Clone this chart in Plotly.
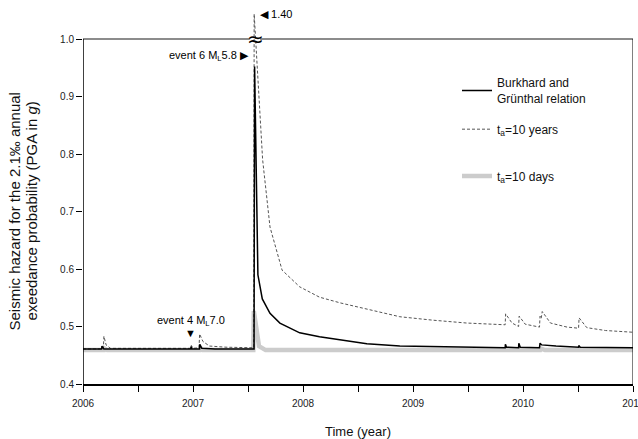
import plotly.graph_objects as go

# ---------------- data ----------------
bg_t = [2006.00, 2006.17, 2006.172, 2006.19, 2006.98, 2006.982, 2006.99, 2007.06, 2007.062, 2007.08,
        2007.20, 2007.555, 2007.560, 2007.590, 2007.630, 2007.700, 2007.790, 2007.970, 2008.150, 2008.340,
        2008.580, 2008.880, 2009.200, 2009.500, 2009.838, 2009.840, 2009.850, 2009.960, 2009.962, 2009.975,
        2010.150, 2010.155, 2010.17, 2010.30, 2010.505, 2010.507, 2010.52, 2011.00]
bg_v = [0.461, 0.461, 0.466, 0.461, 0.461, 0.465, 0.461, 0.461, 0.469, 0.462,
        0.461, 0.461, 0.952, 0.590, 0.548, 0.523, 0.506, 0.489, 0.482, 0.477,
        0.470, 0.466, 0.465, 0.464, 0.463, 0.469, 0.464, 0.463, 0.471, 0.464,
        0.463, 0.471, 0.468, 0.466, 0.464, 0.467, 0.464, 0.463]

ta10y_t = [2006.00, 2006.185, 2006.19, 2006.21, 2006.25, 2006.98, 2006.985, 2007.0, 2007.055, 2007.06,
           2007.09, 2007.15, 2007.30, 2007.552, 2007.556, 2007.633, 2007.700, 2007.760, 2007.810, 2007.970,
           2008.150, 2008.340, 2008.580, 2008.880, 2009.180, 2009.490, 2009.838, 2009.842, 2009.90, 2009.960,
           2009.965, 2010.02, 2010.15, 2010.155, 2010.165, 2010.175, 2010.25, 2010.40, 2010.505, 2010.51,
           2010.58, 2010.75, 2011.00]
ta10y_v = [0.461, 0.461, 0.483, 0.468, 0.462, 0.462, 0.467, 0.462, 0.463, 0.487,
           0.474, 0.466, 0.464, 0.463, 1.40, 0.790, 0.673, 0.633, 0.598, 0.569,
           0.551, 0.541, 0.530, 0.517, 0.511, 0.506, 0.503, 0.522, 0.506, 0.500,
           0.518, 0.504, 0.499, 0.518, 0.514, 0.526, 0.506, 0.499, 0.497, 0.515,
           0.498, 0.493, 0.490]

ta10d_t = [2006.00, 2006.19, 2006.195, 2006.22, 2007.06, 2007.065, 2007.09, 2007.548, 2007.553, 2007.60,
           2007.66, 2010.155, 2010.16, 2010.20, 2011.00]
ta10d_v = [0.459, 0.459, 0.462, 0.459, 0.459, 0.463, 0.459, 0.459, 0.527, 0.466,
           0.459, 0.459, 0.462, 0.459, 0.459]

x_ticks = [2006, 2007, 2008, 2009, 2010, 2011]
x_labels = ["2006", "2007", "2008", "2009", "2010", "2011"]
x_minor = [2006.5, 2007.5, 2008.5, 2009.5, 2010.5]
y_ticks = [0.4, 0.5, 0.6, 0.7, 0.8, 0.9, 1.0]
y_labels = ["0.4", "0.5", "0.6", "0.7", "0.8", "0.9", "1.0"]

peak_label = "1.40"
peak_value = 1.40

y_title_1 = "Seismic hazard for the 2.1‰ annual"
y_title_2 = "exeedance probability (PGA in <i>g</i>)"

# broken axis: values above 1.0 are compressed into the strip above the frame
BREAK = 1.0
COMPRESS = 0.109


def broken(v):
    return v if v <= BREAK else BREAK + (v - BREAK) * COMPRESS


FONT = "Liberation Sans, Arial, Helvetica, sans-serif"

fig = go.Figure()

fig.add_trace(go.Scatter(
    x=ta10d_t, y=[broken(v) for v in ta10d_v], mode="lines",
    name="t<sub>a</sub>=10 days", line=dict(color="#cccccc", width=4.5),
    legend="legend3"))
fig.add_trace(go.Scatter(
    x=ta10y_t, y=[broken(v) for v in ta10y_v], mode="lines",
    name="t<sub>a</sub>=10 years", line=dict(color="#555555", width=1, dash="3px,2px"),
    legend="legend2"))
fig.add_trace(go.Scatter(
    x=bg_t, y=[broken(v) for v in bg_v], mode="lines",
    name="Burkhard and<br>Grünthal relation", line=dict(color="#000000", width=1.5),
    legend="legend"))

# frame shapes
gap_l, gap_r = 2007.515, 2007.61
shapes = [
    dict(type="line", xref="x", yref="y", x0=2006, x1=gap_l, y0=1.0, y1=1.0,
         line=dict(color="#666666", width=1.5)),
    dict(type="line", xref="x", yref="y", x0=gap_r, x1=2011, y0=1.0, y1=1.0,
         line=dict(color="#666666", width=1.5)),
    dict(type="line", xref="x", yref="y", x0=2006, x1=2006, y0=0.4, y1=1.0,
         line=dict(color="#000000", width=1.5)),
    dict(type="line", xref="x", yref="y", x0=2011, x1=2011, y0=0.4, y1=1.0,
         line=dict(color="#000000", width=1)),
]

annotations = [
    dict(x=2007.565, y=1.0, xref="x", yref="y", text="≈", showarrow=False,
         xanchor="center", yanchor="middle",
         font=dict(size=20, color="#000000", family="DejaVu Sans, sans-serif")),
    dict(x=2007.59, y=broken(peak_value), xref="x", yref="y", text="◀ " + peak_label,
         showarrow=False, xanchor="left", yanchor="middle",
         font=dict(size=11, color="#000000", family=FONT)),
    dict(x=2007.53, y=0.971, xref="x", yref="y", text="event 6 M<sub>L</sub>5.8 ▶",
         showarrow=False, xanchor="right", yanchor="middle",
         font=dict(size=11, color="#000000", family=FONT)),
    dict(x=2006.98, y=0.510, xref="x", yref="y", text="event 4 M<sub>L</sub>7.0",
         showarrow=False, xanchor="center", yanchor="middle",
         font=dict(size=11, color="#000000", family=FONT)),
    dict(x=2006.98, y=0.488, xref="x", yref="y", text="▼",
         showarrow=False, xanchor="center", yanchor="middle",
         font=dict(size=11, color="#000000", family=FONT)),
    # y-axis title (two rotated lines, centred on the 0.4–1.0 frame)
    dict(x=-68 / 550, y=0.7, xref="paper", yref="y", text=y_title_1, textangle=-90,
         showarrow=False, xanchor="center", yanchor="middle",
         font=dict(size=15, color="#111111", family=FONT)),
    dict(x=-51 / 550, y=0.7, xref="paper", yref="y", text=y_title_2, textangle=-90,
         showarrow=False, xanchor="center", yanchor="middle",
         font=dict(size=15, color="#111111", family=FONT)),
]

legend_common = dict(xanchor="left", yanchor="middle", bgcolor="rgba(0,0,0,0)",
                     font=dict(size=12, color="#111111", family=FONT))

fig.update_layout(
    width=638, height=439,
    margin=dict(l=83, r=5, t=12, b=55, autoexpand=False),
    paper_bgcolor="white", plot_bgcolor="white",
    font=dict(family=FONT, color="#111111"),
    showlegend=True,
    legend=dict(x=0.68, y=0.788, **legend_common),
    legend2=dict(x=0.68, y=0.685, **legend_common),
    legend3=dict(x=0.68, y=0.559, **legend_common),
    shapes=shapes,
    annotations=annotations,
    xaxis=dict(
        range=[2006, 2011], tickmode="array", tickvals=x_ticks, ticktext=x_labels,
        ticks="outside", ticklen=6, tickwidth=1, tickcolor="#000000",
        minor=dict(tickmode="array", tickvals=x_minor, ticks="outside", ticklen=6,
                   tickwidth=1, tickcolor="#000000", showgrid=False),
        ticklabeloverflow="allow", ticklabelstandoff=3,
        showline=True, linecolor="#000000", linewidth=1.5,
        showgrid=False, zeroline=False,
        tickfont=dict(size=10, color="#222222", family=FONT),
        title=dict(text="Time (year)", font=dict(size=13, color="#111111", family=FONT), standoff=20),
        automargin=False,
    ),
    yaxis=dict(
        range=[0.4, 1.047], tickmode="array", tickvals=y_ticks, ticktext=y_labels,
        ticks="outside", ticklen=6, tickwidth=1, tickcolor="#000000",
        showline=False, showgrid=False, zeroline=False,
        tickfont=dict(size=10, color="#222222", family=FONT),
        automargin=False,
    ),
)

fig.write_html("out.html")
